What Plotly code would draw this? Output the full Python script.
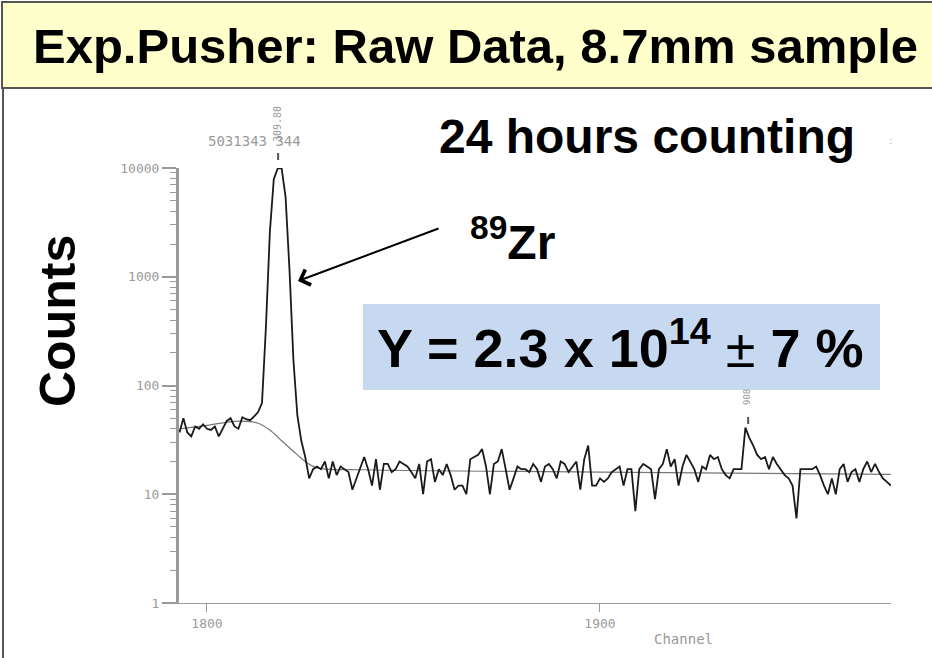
import plotly.graph_objects as go

# ---------------- data ----------------
channels = list(range(1793, 1975))
counts = [
    37, 50, 37, 34, 42, 40, 44, 40, 39, 42,          # 1793-1802
    34, 40, 47, 50, 42, 40, 51, 49, 48, 52,          # 1803-1812
    57, 69, 345, 2570, 7900, 9900, 9900, 5400, 1150, 170,  # 1813-1822
    53, 31, 22, 14, 17, 18, 17, 20, 14, 20,          # 1823-1832
    15, 18, 17, 16, 11, 14, 18, 22, 17, 12,          # 1833-1842
    21, 11, 19, 19, 16, 17, 20, 19, 18, 16,          # 1843-1852
    14, 19, 10, 20, 21, 13, 17, 15, 19, 15,          # 1853-1862
    11, 12, 12, 10, 21, 22, 23, 26, 18, 10,          # 1863-1872
    19, 20, 26, 17, 11, 14, 18, 17, 17, 16,          # 1873-1882
    19, 17, 13, 18, 19, 17, 14, 20, 19, 16,          # 1883-1892
    18, 20, 11, 21, 28, 12, 12, 14, 13, 14,          # 1893-1902
    16, 17, 18, 12, 17, 17, 7, 17, 19, 18,           # 1903-1912
    17, 9, 17, 19, 26, 18, 21, 12, 18, 23,           # 1913-1922
    20, 17, 13, 18, 17, 23, 21, 22, 17, 15,          # 1923-1932
    14, 17, 17, 17, 41, 33, 28, 23, 21, 22,          # 1933-1942
    17, 22, 19, 17, 15, 14, 12, 6, 17, 17,           # 1943-1952
    17, 17, 18, 15, 12, 10, 14, 10, 17, 19,          # 1953-1962
    13, 16, 17, 13, 17, 20, 16, 19, 16, 14,          # 1963-1972
    13, 12,                                          # 1973-1974
]
bg_channels = [1793, 1800, 1808, 1813, 1816, 1819, 1823, 1825, 1828, 1840, 1900, 1974]
bg_counts = [40, 43, 47, 45, 39, 31, 23, 20, 17.5, 16.8, 16.0, 15.2]

x_ticks = [1800, 1900]
y_ticks = [1, 10, 100, 1000, 10000]
y_ticktext = ["1", "10", "100", "1000", "10000"]
marker_channels = [1818.1, 1937.7]   # peak-marker ticks drawn by the analysis program

# ---------------- layout geometry ----------------
W, H = 932, 658
L, R, T, B = 179, 891, 168, 603


def px(X):
    return (X - L) / (R - L)


def py(Y):
    return (B - Y) / (B - T)


GRAY = "#9a9a9a"
MONO = "DejaVu Sans Mono"
SANS = "Liberation Sans, Arial, sans-serif"

fig = go.Figure()
fig.add_trace(go.Scatter(x=bg_channels, y=bg_counts, mode="lines",
                         line=dict(color="#777777", width=1.2, shape="spline", smoothing=1.0),
                         hoverinfo="skip"))
fig.add_trace(go.Scatter(x=channels, y=counts, mode="lines",
                         line=dict(color="#1a1a1a", width=1.8)))

minor_vals = [m * 10 ** d for d in range(4) for m in range(2, 10)]

fig.update_layout(
    width=W, height=H,
    margin=dict(l=L, r=W - R, t=T, b=H - B, pad=0),
    paper_bgcolor="white", plot_bgcolor="white",
    showlegend=False,
    xaxis=dict(range=[1792.88, 1974.05], tickmode="array", tickvals=x_ticks,
               ticks="outside", ticklen=8, tickwidth=1, tickcolor=GRAY,
               showline=True, linecolor=GRAY, linewidth=1,
               showgrid=False, zeroline=False,
               tickfont=dict(family=MONO, size=13, color=GRAY)),
    yaxis=dict(type="log", range=[0, 4], tickmode="array", tickvals=y_ticks, ticktext=y_ticktext,
               ticks="outside", ticklen=14, tickwidth=1.5, tickcolor=GRAY,
               minor=dict(ticks="outside", ticklen=6, tickwidth=1, tickcolor=GRAY,
                          tickmode="array", tickvals=minor_vals, showgrid=False),
               showline=True, linecolor=GRAY, linewidth=3,
               showgrid=False, zeroline=False,
               tickfont=dict(family=MONO, size=13, color=GRAY)),
)

shapes = [
    # title box
    dict(type="rect", xref="paper", yref="paper", x0=px(2), x1=px(945), y0=py(2), y1=py(88),
         fillcolor="#FFFFCC", line=dict(color="#555555", width=2), layer="below"),
    # left frame line
    dict(type="line", xref="paper", yref="paper", x0=px(3), x1=px(3), y0=py(88), y1=py(660),
         line=dict(color="#555555", width=2)),
    # result box
    dict(type="rect", xref="paper", yref="paper", x0=px(363), x1=px(880), y0=py(304), y1=py(390),
         fillcolor="#C6D9F1", line=dict(width=0), layer="below"),
    # peak marker ticks
    dict(type="line", xref="x", yref="paper", x0=marker_channels[0], x1=marker_channels[0],
         y0=py(160), y1=py(153), line=dict(color="#555555", width=2)),
    dict(type="line", xref="x", yref="paper", x0=marker_channels[1], x1=marker_channels[1],
         y0=py(424), y1=py(417), line=dict(color="#555555", width=2)),
]
fig.update_layout(shapes=shapes)

ann = [
    dict(text="<b>Exp.Pusher: Raw Data, 8.7mm sample</b>", x=px(475), y=py(46),
         font=dict(family=SANS, size=49, color="black")),
    dict(text="<b>24 hours counting</b>", x=px(647), y=py(137),
         font=dict(family=SANS, size=48, color="black")),
    dict(text="<b><sup>89</sup>Zr</b>", x=px(512), y=py(239),
         font=dict(family=SANS, size=48, color="black")),
    dict(text="<b>Y = 2.3 x 10<sup>14</sup></b> ± <b>7 %</b>", x=px(620), y=py(344),
         font=dict(family=SANS, size=54, color="black")),
    dict(text="<b>Counts</b>", x=px(58), y=py(321), textangle=-90,
         font=dict(family=SANS, size=50, color="black")),
    dict(text="5031343 344", x=px(254), y=py(141),
         font=dict(family=MONO, size=14, color=GRAY)),
    dict(text="309.80", x=px(278), y=py(124), textangle=-90,
         font=dict(family=MONO, size=10, color=GRAY)),
    dict(text="908", x=px(747), y=py(397), textangle=-90,
         font=dict(family=MONO, size=9, color=GRAY)),
    dict(text="Channel", x=px(683), y=py(639),
         font=dict(family=MONO, size=14, color=GRAY)),
    dict(text=":", x=px(890), y=py(141),
         font=dict(family=MONO, size=9, color="#bbbbbb")),
]
for a in ann:
    a.update(xref="paper", yref="paper", showarrow=False, xanchor="center", yanchor="middle")
# arrow to the 89Zr peak
ann.append(dict(x=px(298), y=py(281), xref="paper", yref="paper", text="",
                showarrow=True, ax=142, ay=-53, arrowhead=4, arrowsize=1.6,
                arrowwidth=2, arrowcolor="black"))
fig.update_layout(annotations=ann)

fig.write_html("out.html")
